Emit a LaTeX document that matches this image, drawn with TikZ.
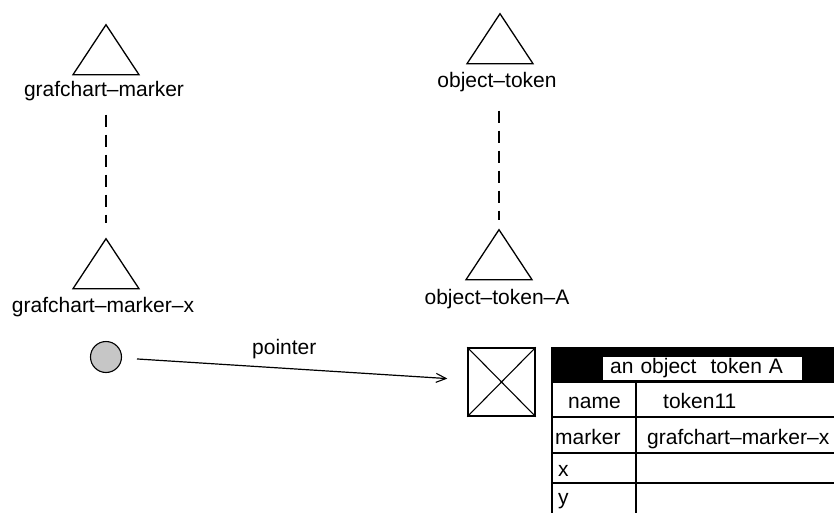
\documentclass[tikz,border=0pt]{standalone}
\usepackage{fontspec}
\setmainfont{Liberation Sans}
\usetikzlibrary{shapes.geometric,arrows.meta}

\begin{document}
\begin{tikzpicture}[
    x=1pt, y=-1pt,
    font=\fontsize{21}{25}\selectfont,
    cls/.style={isosceles triangle, shape border rotate=90, isosceles triangle stretches, draw, line width=1.3pt, minimum width=66pt, minimum height=50pt, inner sep=0pt, anchor=apex},
    clsname/.style={anchor=base, inner sep=0pt},
    inherit/.style={line width=1.4pt, dash pattern=on 12pt off 8pt},
    ptr/.style={line width=1.2pt, -{Straight Barb[length=10pt, width=9pt, line width=1.1pt]}},
    cell/.style={anchor=base west, inner sep=0pt},
    rule/.style={line width=1.4pt},
]
\path[use as bounding box] (0,0) rectangle (834,513);

% class hierarchy
\node[cls] (tgm) at (106,23) {};
\node[clsname] (gm) at (104,97) {grafchart--marker};
\node[cls] (tgmx) at (106,237) {};
\node[clsname] (gmx) at (103,312) {grafchart--marker--x};
\draw[inherit, shorten <=13pt, shorten >=14pt] (tgmx.apex |- gm.south) -- (tgmx.apex);

\node[cls] (tot) at (500,12) {};
\node[clsname] (ot) at (497,88) {object--token};
\node[cls] (tota) at (499,228) {};
\node[clsname] (ota) at (497,304) {object--token--A};
\draw[inherit, shorten <=18pt, shorten >=8pt] (tota.apex |- ot.south) -- (tota.apex);

% instances
\node[circle, draw, fill=gray!45, line width=1.1pt, minimum size=31pt, inner sep=0pt] (ball) at (106,357) {};
\node[draw, rule, minimum width=67pt, minimum height=68pt, inner sep=0pt] (tok) at (501.5,382) {};
\draw[line width=1.1pt] (tok.north west) -- (tok.south east) (tok.north east) -- (tok.south west);
\draw[ptr, shorten <=15pt, shorten >=20pt] (ball) -- node[pos=.47, anchor=base, yshift=14pt, inner sep=0pt] (ptrlbl) {pointer} (tok);

% attribute table
\begin{scope}
\clip (0,0) rectangle (834,513);
\fill[black] (552,348) rectangle (850,383);
\node[fill=white, anchor=west, minimum height=23pt, inner xsep=7pt, inner ysep=0pt, text width=185pt, align=left] (hdr) at (603,368.5) {an object\ \ token A};
\draw[rule] (552,348) rectangle (850,520);
\draw[rule] (552,417) -- (850,417) (552,453) -- (850,453) (552,483) -- (850,483);
\draw[rule] (636,383) -- (636,520);
\node[cell] (kname) at (568,408) {name};
\node[cell] (vname) at (663,408) {token11};
\node[cell] (kmark) at (555,444) {marker};
\node[cell] (vmark) at (647,444) {grafchart--marker--x};
\node[cell] (kx) at (558,476) {x};
\node[cell] (ky) at (558,504) {y};
\end{scope}
\end{tikzpicture}
\end{document}
